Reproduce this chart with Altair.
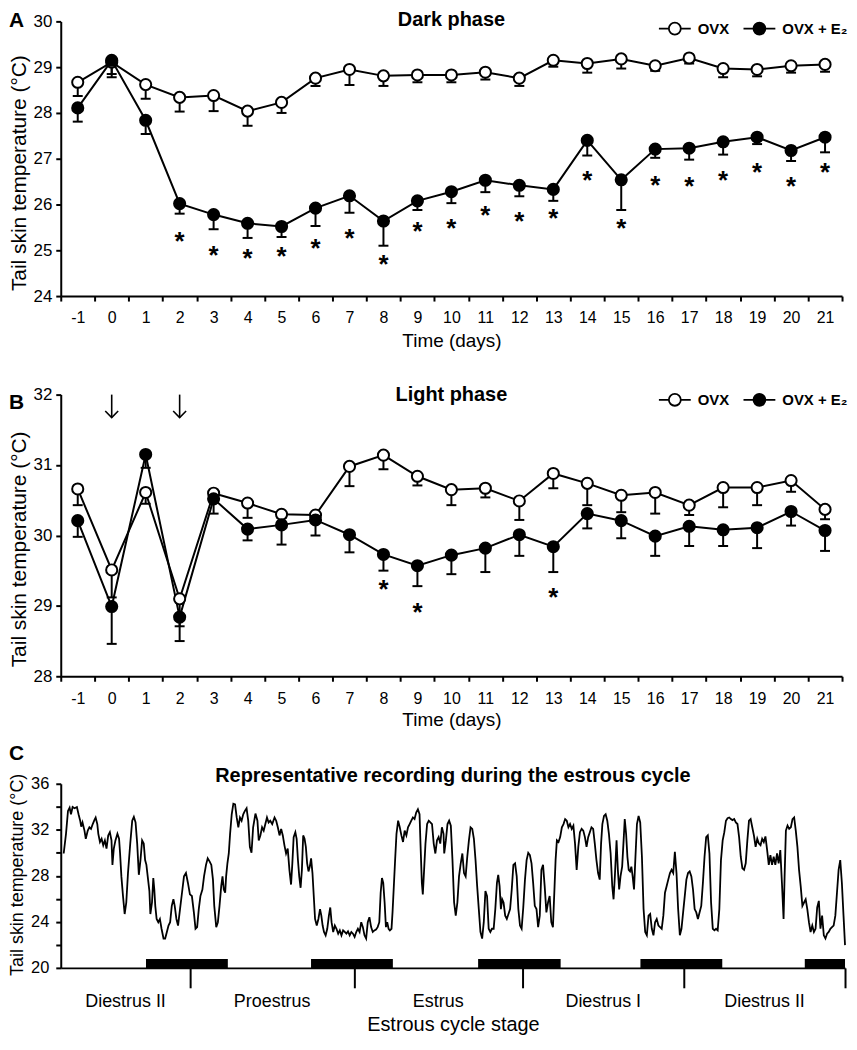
import altair as alt
import pandas as pd

FONT = "Liberation Sans"
days = list(range(-1, 22))
groups = ["OVX", "OVX + E₂"]

# ---------------- Panel A: dark phase ----------------
a_ovx_mean = [28.67, 29.11, 28.62, 28.34, 28.38, 28.04, 28.23, 28.76, 28.95, 28.81, 28.83, 28.83,
              28.89, 28.76, 29.15, 29.08, 29.18, 29.03, 29.20, 28.97, 28.95, 29.03, 29.06]
a_ovx_lo = [28.37, 28.85, 28.31, 28.03, 28.04, 27.72, 28.00, 28.59, 28.61, 28.59, 28.67, 28.67,
            28.73, 28.59, 29.01, 28.88, 28.97, 28.92, 29.08, 28.78, 28.80, 28.88, 28.90]
a_e2_mean = [28.11, 29.15, 27.84, 26.02, 25.78, 25.59, 25.52, 25.92, 26.19, 25.64, 26.08, 26.28,
             26.53, 26.42, 26.33, 27.40, 26.54, 27.21, 27.23, 27.37, 27.47, 27.18, 27.47]
a_e2_lo = [27.81, 28.78, 27.54, 25.80, 25.46, 25.27, 25.29, 25.53, 25.82, 25.10, 25.88, 26.03,
           26.27, 26.18, 26.08, 27.07, 25.88, 27.02, 26.98, 27.09, 27.32, 26.95, 27.14]
a_star_days = list(range(2, 22))
a_star_y = [25.34, 25.03, 24.97, 25.01, 25.17, 25.40, 24.82, 25.55, 25.62, 25.90, 25.76, 25.83,
            26.67, 25.62, 26.56, 26.54, 26.67, 26.84, 26.53, 26.84]

# ---------------- Panel B: light phase ----------------
b_ovx_mean = [30.66, 29.51, 30.61, 29.10, 30.60, 30.46, 30.30, 30.29, 30.98, 31.14, 30.84, 30.65,
              30.67, 30.49, 30.88, 30.74, 30.57, 30.61, 30.43, 30.68, 30.68, 30.78, 30.37]
b_ovx_lo = [30.43, 29.12, 30.45, 28.71, 30.47, 30.25, 30.25, 30.21, 30.70, 30.94, 30.71, 30.43,
            30.54, 30.22, 30.67, 30.43, 30.33, 30.31, 30.29, 30.40, 30.43, 30.62, 30.23]
b_e2_mean = [30.21, 28.99, 31.15, 28.84, 30.52, 30.09, 30.15, 30.22, 30.01, 29.73, 29.57, 29.72,
             29.82, 30.01, 29.84, 30.31, 30.21, 29.99, 30.13, 30.08, 30.11, 30.34, 30.07]
b_e2_lo = [29.98, 28.46, 30.96, 28.50, 30.31, 29.93, 29.87, 30.00, 29.76, 29.50, 29.28, 29.45,
           29.48, 29.71, 29.48, 30.10, 29.96, 29.71, 29.85, 29.85, 29.82, 30.14, 29.78]
b_star_days = [8, 9, 13]
b_star_y = [29.33, 29.00, 29.21]
b_arrow_days = [0, 2]

# ---------------- Panel C: estrous-cycle recording ----------------
c_hours_1 = [0.43, 0.77, 1.06, 1.30, 1.50, 1.74, 2.03, 2.37, 2.61, 2.85,
             3.00, 3.19, 3.48, 3.67, 3.96, 4.20, 4.44, 4.69, 4.93, 5.12,
             5.36, 5.51, 5.75, 5.99, 6.23, 6.47, 6.71, 6.96, 7.20, 7.44,
             7.58, 7.78, 8.02, 8.31, 8.55, 8.70, 8.89, 9.13, 9.37, 9.61,
             9.86, 10.19, 10.48, 10.72, 10.97, 11.21, 11.45, 11.69, 11.93, 12.17,
             12.37, 12.56, 12.75, 13.00, 13.14, 13.38, 13.57, 13.72, 13.86, 14.06,
             14.30, 14.54, 14.78, 15.07, 15.31, 15.56, 15.80, 16.04, 16.28, 16.52,
             16.71, 16.96, 17.20, 17.49, 17.78, 18.07, 18.36, 18.65, 18.94, 19.23,
             19.52, 19.76, 20.00, 20.24, 20.48, 20.77, 21.01, 21.30, 21.55, 21.84,
             22.08, 22.32, 22.51, 22.80, 23.04, 23.28, 23.53, 23.72, 23.91, 24.11,
             24.25, 24.44, 24.64, 24.83, 25.07, 25.31, 25.56, 25.80, 26.04, 26.28,
             26.52, 26.76, 27.00, 27.25, 27.49, 27.73, 27.97]
c_temps_1 = [29.94, 31.65, 33.64, 33.92, 33.35, 33.98, 33.87, 33.98, 33.35, 32.79,
             32.27, 32.64, 31.93, 31.22, 31.93, 32.22, 32.08, 32.50, 32.84, 33.07,
             32.50, 31.65, 30.94, 31.22, 30.65, 31.08, 30.37, 31.51, 31.79, 31.08,
             28.95, 30.37, 31.08, 31.65, 31.22, 29.94, 27.95, 26.24, 24.68, 25.68,
             28.24, 30.80, 32.79, 33.13, 32.64, 30.80, 28.09, 29.37, 31.08, 30.80,
             29.37, 28.95, 27.95, 26.67, 24.68, 25.68, 27.81, 26.81, 25.39, 24.25,
             23.97, 24.25, 23.40, 22.55, 22.55, 23.12, 23.68, 23.97, 25.39, 25.96,
             25.39, 24.25, 23.68, 25.11, 26.53, 27.95, 28.24, 27.38, 26.39, 26.24,
             24.82, 23.40, 23.54, 25.11, 26.24, 26.81, 27.95, 28.95, 29.52, 29.23,
             28.95, 27.67, 25.39, 23.54, 23.97, 25.39, 27.10, 27.95, 26.81, 26.53,
             27.95, 29.09, 29.94, 31.65, 33.35, 34.27, 34.21, 33.07, 32.22, 33.07,
             32.79, 33.35, 33.64, 33.87, 32.79, 30.51, 30.00]
c_hours_2 = [28.21, 28.55, 28.84, 29.03, 29.27, 29.52, 29.76, 30.00, 30.24, 30.48,
             30.72, 31.01, 31.35, 31.59, 31.83, 32.08, 32.32, 32.56, 32.80, 33.04,
             33.28, 33.53, 33.77, 33.96, 34.15, 34.40, 34.59, 34.78, 34.97, 35.17,
             35.36, 35.55, 35.75, 35.94, 36.13, 36.33, 36.52, 36.71, 36.91, 37.10,
             37.29, 37.54, 37.78, 38.02, 38.21, 38.40, 38.60, 38.84, 39.08, 39.32,
             39.52, 39.71, 39.95, 40.19, 40.43, 40.68, 40.92, 41.16, 41.40, 41.64,
             41.88, 42.12, 42.37, 42.61, 42.85, 43.09, 43.33, 43.57, 43.82, 44.06,
             44.30, 44.54, 44.78, 45.02, 45.26, 45.51, 45.75, 45.99, 46.23, 46.47,
             46.71, 46.91, 47.10, 47.29, 47.49, 47.68, 47.87, 48.07, 48.26, 48.50,
             48.65, 48.84, 49.03, 49.23, 49.47, 49.71, 49.95, 50.19, 50.43, 50.68,
             50.92, 51.16, 51.40, 51.64, 51.88, 52.12, 52.37, 52.61, 52.75, 52.95,
             53.09, 53.28, 53.48, 53.72, 53.96, 54.20, 54.44, 54.69, 54.93, 55.17,
             55.41, 55.65, 55.89, 56.13]
c_temps_2 = [32.22, 33.41, 32.79, 31.08, 31.51, 32.22, 31.93, 32.50, 33.07, 32.64,
             32.79, 32.50, 33.07, 32.79, 32.22, 31.51, 32.08, 31.51, 30.65, 29.94,
             30.37, 28.52, 27.24, 29.09, 31.36, 31.79, 31.22, 29.37, 27.95, 26.96,
             28.52, 31.51, 31.22, 30.51, 29.09, 28.38, 28.80, 29.52, 28.24, 26.24,
             24.25, 23.68, 24.25, 25.11, 24.54, 23.68, 23.12, 22.83, 23.40, 24.54,
             25.25, 23.97, 23.12, 23.68, 23.40, 22.97, 23.26, 22.83, 23.26, 23.12,
             22.97, 23.17, 22.83, 23.12, 22.97, 22.69, 23.12, 23.40, 23.12, 23.97,
             23.54, 22.83, 22.55, 23.97, 24.40, 23.54, 23.12, 23.26, 23.34, 23.54,
             23.97, 26.53, 27.81, 27.38, 25.68, 23.54, 23.97, 23.40, 23.26, 23.40,
             24.82, 27.10, 29.37, 31.65, 32.79, 32.22, 31.51, 30.94, 31.93, 31.51,
             32.22, 32.50, 32.79, 33.07, 32.93, 33.50, 33.78, 33.35, 30.80, 27.38,
             26.39, 28.52, 30.80, 32.50, 32.79, 32.64, 32.50, 30.80, 29.94, 31.08,
             31.36, 30.80, 32.22, 31.65]
c_hours_3 = [56.23, 56.47, 56.71, 56.95, 57.20, 57.44, 57.68, 57.92, 58.16, 58.40,
             58.65, 58.89, 59.13, 59.37, 59.61, 59.85, 60.09, 60.34, 60.58, 60.82,
             61.06, 61.30, 61.54, 61.79, 62.03, 62.27, 62.51, 62.75, 62.99, 63.23,
             63.48, 63.72, 63.96, 64.15, 64.35, 64.54, 64.73, 64.93, 65.17, 65.41,
             65.65, 65.89, 66.13, 66.37, 66.62, 66.86, 67.10, 67.34, 67.58, 67.82,
             68.07, 68.31, 68.55, 68.79, 69.03, 69.27, 69.51, 69.76, 70.00, 70.24,
             70.48, 70.72, 70.96, 71.21, 71.45, 71.69, 71.93, 72.17, 72.41, 72.56,
             72.75, 72.99, 73.23, 73.48, 73.72, 73.96, 74.20, 74.44, 74.68, 74.93,
             75.17, 75.41, 75.65, 75.89, 76.13, 76.38, 76.62, 76.86, 77.10, 77.34,
             77.58, 77.82, 78.07, 78.31, 78.55, 78.79, 79.03, 79.23, 79.42, 79.66,
             79.90, 80.14, 80.38, 80.63, 80.87, 81.06, 81.25, 81.50, 81.69, 81.88,
             82.08, 82.32, 82.56, 82.70, 82.90, 83.09, 83.28, 83.48, 83.67, 83.86,
             84.06, 84.25, 84.49, 84.73, 84.97, 85.22]
c_temps_3 = [29.94, 31.08, 32.50, 32.79, 32.36, 29.37, 25.68, 24.54, 25.68, 27.95,
             29.09, 29.94, 28.24, 27.95, 29.66, 31.08, 32.22, 32.08, 31.22, 29.37,
             27.10, 25.11, 23.12, 22.55, 23.97, 26.67, 26.24, 23.40, 23.12, 23.40,
             23.40, 25.11, 27.38, 28.09, 27.10, 25.11, 25.96, 25.68, 24.54, 24.25,
             24.68, 25.11, 26.81, 28.95, 29.09, 27.95, 25.11, 23.68, 23.40, 25.25,
             27.67, 29.37, 30.00, 29.80, 29.09, 27.38, 25.39, 25.11, 23.54, 24.54,
             28.52, 28.95, 27.10, 24.82, 25.68, 26.24, 23.97, 23.54, 27.10, 29.37,
             31.08, 30.94, 31.36, 32.22, 32.50, 32.93, 32.79, 32.22, 32.50, 32.08,
             32.36, 30.80, 28.52, 30.51, 31.79, 32.08, 31.93, 31.36, 30.51, 31.36,
             31.79, 32.22, 32.08, 30.80, 29.37, 28.24, 27.67, 30.80, 32.50, 33.21,
             33.35, 32.79, 31.65, 29.94, 27.10, 25.96, 27.95, 31.08, 28.52, 26.81,
             27.95, 28.80, 31.36, 32.93, 31.65, 29.66, 28.52, 28.38, 28.80, 27.95,
             26.81, 29.37, 32.50, 33.21, 32.64, 29.66]
c_hours_4 = [85.46, 85.70, 85.94, 86.19, 86.43, 86.67, 86.91, 87.15, 87.39, 87.64,
             87.88, 88.12, 88.36, 88.60, 88.84, 89.08, 89.33, 89.57, 89.81, 90.05,
             90.29, 90.53, 90.78, 91.02, 91.26, 91.50, 91.74, 91.98, 92.22, 92.47,
             92.71, 92.95, 93.19, 93.43, 93.67, 93.92, 94.16, 94.40, 94.64, 94.88,
             95.12, 95.36, 95.61, 95.85, 96.09, 96.33, 96.57, 96.81, 97.06, 97.30,
             97.54, 97.78, 98.02, 98.26, 98.50, 98.75, 98.99, 99.23, 99.47, 99.71,
             99.95, 100.20, 100.44, 100.68, 100.92, 101.16, 101.40, 101.64, 101.89, 102.13,
             102.37, 102.61, 102.85, 103.09, 103.33, 103.58, 103.82, 104.06, 104.30, 104.54,
             104.78, 105.03, 105.27, 105.51, 105.75, 105.99, 106.14, 106.33, 106.57, 106.81,
             107.06, 107.30, 107.54, 107.78, 108.02, 108.26, 108.50, 108.75, 108.99, 109.23,
             109.47, 109.71, 109.95, 110.20, 110.44, 110.68, 110.92, 111.16, 111.40, 111.64,
             111.89, 112.13, 112.37, 112.61, 112.85, 113.09, 113.33, 113.58, 113.82, 114.06,
             114.30, 114.54, 114.78, 115.00]
c_temps_4 = [25.11, 23.12, 22.83, 24.54, 24.68, 23.40, 22.83, 23.97, 24.25, 23.68,
             23.54, 23.40, 24.54, 26.53, 27.10, 27.67, 28.24, 28.52, 28.24, 30.08,
             28.24, 25.11, 22.83, 23.40, 24.82, 26.24, 27.67, 28.24, 28.38, 27.95,
             26.81, 25.11, 24.82, 24.25, 24.82, 25.39, 27.38, 29.66, 31.36, 31.51,
             29.94, 25.68, 23.40, 23.26, 23.40, 23.26, 25.11, 29.37, 31.08, 31.79,
             32.79, 33.01, 33.07, 32.93, 32.84, 32.93, 32.64, 32.50, 31.36, 29.66,
             28.66, 28.52, 29.09, 31.08, 32.79, 32.93, 32.22, 31.51, 30.51, 31.22,
             30.80, 30.65, 31.22, 30.94, 31.42, 30.23, 28.95, 29.80, 28.95, 29.66,
             28.95, 29.94, 29.09, 30.23, 27.38, 24.25, 27.95, 31.93, 32.36, 32.08,
             32.22, 32.93, 33.07, 31.93, 30.51, 28.52, 27.10, 25.39, 25.68, 25.96,
             25.11, 23.97, 23.12, 23.68, 23.12, 23.40, 25.25, 25.82, 23.40, 24.54,
             22.83, 22.55, 22.97, 23.12, 23.40, 23.54, 23.68, 24.54, 26.53, 28.52,
             29.37, 27.38, 24.54, 21.98]
dark_start = [12.5, 36.7, 61.2, 85.0, 109.1]
dark_end = [24.5, 48.7, 73.3, 97.0, 115.0]
stage_names = ["Diestrus II", "Proestrus", "Estrus", "Diestrus I", "Diestrus II"]
stage_start = [0.0, 19.0, 43.0, 67.7, 91.4]
stage_end = [19.0, 43.0, 67.7, 91.4, 115.0]

YTITLE = "Tail skin temperature (°C)"
# legend glyph: a short line through a circle, drawn inside the unit square
LEGEND_PATH = "M-1,0L-0.375,0M0.375,0L1,0M-0.375,0A0.375,0.375,0,1,1,0.375,0A0.375,0.375,0,1,1,-0.375,0Z"
ARROW_HEAD = "M-1,-1L0,0L1,-1"
W = 785
LEFT = -52


def phase_df(m1, l1, m2, l2):
    return pd.DataFrame({
        "day": days + days,
        "group": [groups[0]] * len(days) + [groups[1]] * len(days),
        "mean": m1 + m2,
        "lo": l1 + l2,
    })


def one_text(t):
    return pd.DataFrame({"t": [t]})


def phase_panel(df, star_days, star_y, yvals, H, title, letter,
                title_y, legend_y, letter_y, yt_y, xt_y, arrows=None):
    xaxis = alt.Axis(title="Time (days)", labelAngle=0, tickBand="extent", tickSize=5,
                     tickWidth=2, domainWidth=2, labelFontSize=16, labelPadding=9,
                     titleFontSize=19, titleFontWeight="normal", titleY=xt_y,
                     titleBaseline="top", grid=False)
    xscale = alt.Scale(type="band", paddingInner=0, paddingOuter=0)
    yaxis = alt.Axis(title=YTITLE, values=yvals, format="d", tickSize=5, tickWidth=2,
                     domainWidth=2, labelFontSize=17, labelPadding=4, titleFontSize=21,
                     titleFontWeight="normal", titleX=LEFT + 21, titleY=yt_y, grid=False)
    yscale = alt.Scale(domain=[yvals[0], yvals[-1]], nice=False, zero=False)

    def X():
        return alt.X("day:O", sort=days, scale=xscale, axis=xaxis)

    def Y(f):
        return alt.Y(f + ":Q", scale=yscale, axis=yaxis)

    base = alt.Chart(df)
    line = base.mark_line(color="black", strokeWidth=2).encode(
        x=X(), y=Y("mean"), detail="group:N")
    err = base.mark_rule(color="black", strokeWidth=2).encode(
        x=X(), y=Y("lo"), y2="mean:Q")
    cap = base.mark_tick(color="black", thickness=2, size=10, opacity=1).encode(
        x=X(), y=Y("lo"))
    pts = base.mark_point(filled=True, size=125, stroke="black", strokeWidth=2,
                          opacity=1, shape="circle").encode(
        x=X(), y=Y("mean"),
        fill=alt.Fill("group:N", scale=alt.Scale(domain=groups, range=["white", "black"]),
                      legend=alt.Legend(title=None, orient="none", legendX=W - 185,
                                        legendY=legend_y, direction="horizontal",
                                        symbolType=LEGEND_PATH, symbolSize=1024,
                                        symbolStrokeColor="black", symbolStrokeWidth=1.8,
                                        labelFont=FONT, labelFontSize=15,
                                        labelFontWeight="bold", labelColor="black",
                                        labelOffset=6, columnPadding=10, padding=0)))
    stars = alt.Chart(pd.DataFrame({"day": star_days, "sy": star_y})).mark_text(
        text="*", fontSize=26, fontWeight="bold", baseline="middle", dy=7,
        color="black").encode(x=X(), y=Y("sy"))
    ttl = alt.Chart(one_text(title)).mark_text(
        fontSize=20, fontWeight="bold", baseline="middle", align="center").encode(
        x=alt.value(W / 2), y=alt.value(title_y), text="t:N")
    let = alt.Chart(one_text(letter)).mark_text(
        fontSize=21, fontWeight="bold", baseline="middle", align="left").encode(
        x=alt.value(LEFT), y=alt.value(letter_y), text="t:N")
    layers = [line, err, cap, pts, stars, ttl, let]
    if arrows is not None:
        adf = alt.Chart(pd.DataFrame({"day": arrows}))
        shaft = adf.mark_rule(color="black", strokeWidth=1.6).encode(
            x=X(), y=alt.value(0), y2=alt.value(23))
        head = adf.mark_point(shape=ARROW_HEAD, filled=False, size=169, color="black",
                              strokeWidth=1.6, opacity=1).encode(x=X(), y=alt.value(23))
        layers += [shaft, head]
    return alt.layer(*layers).properties(width=W, height=H)


pA = phase_panel(phase_df(a_ovx_mean, a_ovx_lo, a_e2_mean, a_e2_lo), a_star_days, a_star_y,
                 list(range(24, 31)), 276, "Dark phase", "A",
                 title_y=-1, legend_y=-10, letter_y=0, yt_y=152, xt_y=36)
pB = phase_panel(phase_df(b_ovx_mean, b_ovx_lo, b_e2_mean, b_e2_lo), b_star_days, b_star_y,
                 list(range(28, 33)), 283, "Light phase", "B",
                 title_y=0, legend_y=-12, letter_y=8, yt_y=155, xt_y=34.5,
                 arrows=b_arrow_days)

# ---------------- Panel C ----------------
WC, HC = 788, 185
trace = pd.DataFrame({"hour": c_hours_1 + c_hours_2 + c_hours_3 + c_hours_4,
                      "temp": c_temps_1 + c_temps_2 + c_temps_3 + c_temps_4})
xaxisC = alt.Axis(values=stage_end, labels=False, tickSize=20, tickWidth=2, domainWidth=2,
                  title="Estrous cycle stage", titleFontSize=20, titleFontWeight="normal",
                  titleY=47, titleBaseline="top", grid=False)
xscaleC = alt.Scale(domain=[0, 115], nice=False, zero=False)
yaxisC = alt.Axis(values=list(range(20, 37, 2)), format="d",
                  labelExpr="datum.value % 4 == 0 ? datum.label : ''",
                  tickSize=5, tickWidth=2, domainWidth=2, labelFontSize=16.5, labelPadding=7,
                  title=YTITLE, titleFontSize=18, titleFontWeight="normal", titleX=LEFT + 18,
                  titleY=91, grid=False)
yscaleC = alt.Scale(domain=[20, 36], nice=False, zero=False)


def XC(f):
    return alt.X(f + ":Q", scale=xscaleC, axis=xaxisC)


lineC = alt.Chart(trace).mark_line(color="black", strokeWidth=1.8).encode(
    x=XC("hour"), y=alt.Y("temp:Q", scale=yscaleC, axis=yaxisC))
darkC = alt.Chart(pd.DataFrame({"start": dark_start, "end": dark_end})).mark_rect(
    color="black").encode(x=XC("start"), x2="end:Q", y=alt.value(HC - 9), y2=alt.value(HC))
stageC = alt.Chart(pd.DataFrame({"name": stage_names, "start": stage_start,
                                 "end": stage_end})).transform_calculate(
    mid="(datum.start + datum.end) / 2").mark_text(
    fontSize=18, baseline="middle", align="center").encode(
    x=XC("mid"), y=alt.value(HC + 34), text="name:N")
ttlC = alt.Chart(one_text("Representative recording during the estrous cycle")).mark_text(
    fontSize=20, fontWeight="bold", baseline="middle", align="center").encode(
    x=alt.value(WC / 2), y=alt.value(-8), text="t:N")
letC = alt.Chart(one_text("C")).mark_text(
    fontSize=21, fontWeight="bold", baseline="middle", align="left").encode(
    x=alt.value(LEFT), y=alt.value(-30), text="t:N")
pC = alt.layer(lineC, darkC, stageC, ttlC, letC).properties(width=WC, height=HC)

top = alt.vconcat(pA, pB, spacing=32).resolve_scale(fill="independent").resolve_legend(
    fill="independent")
chart = (alt.vconcat(top, pC, spacing=13)
         .resolve_scale(fill="independent").resolve_legend(fill="independent")
         .properties(padding=0)
         .configure_view(stroke=None)
         .configure_axis(domainColor="black", tickColor="black", labelColor="black",
                         titleColor="black", labelFont=FONT, titleFont=FONT)
         .configure_text(font=FONT, color="black"))

chart.save("out.html", embed_options={"renderer": "svg", "actions": False})
